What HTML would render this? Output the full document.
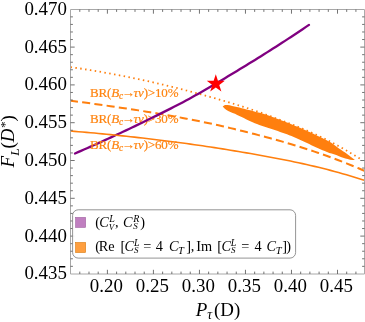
<!DOCTYPE html>
<html><head><meta charset="utf-8">
<style>
html,body{margin:0;padding:0;background:#fff;}
body{width:365px;height:322px;overflow:hidden;position:relative;font-family:"Liberation Serif",serif;}
svg{position:absolute;left:0;top:0;display:block;will-change:transform;}
text{font-family:"Liberation Serif",serif;}
</style></head><body>
<svg width="365" height="322" viewBox="0 0 365 322">
<g fill="none" stroke-linecap="butt" stroke-linejoin="round">
<path d="M70.5,100.64 L74.5,101.18 L78.5,101.72 L82.5,102.26 L86.5,102.81 L90.5,103.36 L94.5,103.91 L98.5,104.47 L102.5,105.04 L106.5,105.61 L110.5,106.18 L114.5,106.76 L118.5,107.35 L122.5,107.94 L126.5,108.54 L130.5,109.15 L134.5,109.76 L138.5,110.38 L142.5,111.01 L146.5,111.65 L150.5,112.30 L154.5,112.96 L158.5,113.63 L162.5,114.31 L166.5,115.00 L170.5,115.71 L174.5,116.42 L178.5,117.15 L182.5,117.90 L186.5,118.66 L190.5,119.43 L194.5,120.22 L198.5,121.03 L202.5,121.85 L206.5,122.69 L210.5,123.55 L214.5,124.43 L218.5,125.33 L222.5,126.24 L226.5,127.17 L230.5,128.12 L234.5,129.08 L238.5,130.05 L242.5,131.04 L246.5,132.04 L250.5,133.05 L254.5,134.08 L258.5,135.12 L262.5,136.17 L266.5,137.24 L270.5,138.32 L274.5,139.41 L278.5,140.53 L282.5,141.66 L286.5,142.82 L290.5,144.00 L294.5,145.20 L298.5,146.43 L302.5,147.69 L306.5,148.97 L310.5,150.28 L314.5,151.62 L318.5,152.99 L322.5,154.38 L326.5,155.81 L330.5,157.27 L334.5,158.75 L338.5,160.26 L342.5,161.81 L346.5,163.38 L350.5,164.99 L354.5,166.62 L358.5,168.28 L362.5,169.98 L364.5,170.84" stroke="#ff7f0e" stroke-width="2" stroke-dasharray="8.1,4.245" stroke-dashoffset="0.6"/>
<path d="M70.5,67.06 L74.5,67.64 L78.5,68.25 L82.5,68.87 L86.5,69.51 L90.5,70.16 L94.5,70.83 L98.5,71.52 L102.5,72.22 L106.5,72.93 L110.5,73.66 L114.5,74.41 L118.5,75.17 L122.5,75.94 L126.5,76.73 L130.5,77.53 L134.5,78.35 L138.5,79.18 L142.5,80.03 L146.5,80.89 L150.5,81.77 L154.5,82.67 L158.5,83.59 L162.5,84.52 L166.5,85.48 L170.5,86.45 L174.5,87.44 L178.5,88.44 L182.5,89.47 L186.5,90.50 L190.5,91.56 L194.5,92.62 L198.5,93.71 L202.5,94.80 L206.5,95.90 L210.5,97.02 L214.5,98.16 L218.5,99.30 L222.5,100.46 L226.5,101.64 L230.5,102.84 L234.5,104.06 L238.5,105.30 L242.5,106.56 L246.5,107.85 L250.5,109.16 L254.5,110.51 L258.5,111.88 L262.5,113.29 L266.5,114.73 L270.5,116.20 L274.5,117.69 L278.5,119.19 L282.5,120.72 L286.5,122.26 L290.5,123.82 L294.5,125.40 L298.5,127.02 L302.5,128.67 L306.5,130.36 L310.5,132.11 L314.5,133.92 L318.5,135.79 L322.5,137.72 L326.5,139.70 L330.5,141.76 L334.5,143.87 L338.5,146.04 L342.5,148.27 L346.5,150.56 L350.5,152.92 L354.5,155.34 L358.5,157.82 L362.5,160.37" stroke="#ff7f0e" stroke-width="1.8" stroke-dasharray="1.5,3.4"/>
</g>
<g font-size="13" fill="#ff8410" stroke="#ff8410" stroke-width="0.2" letter-spacing="-0.17"><text x="90" y="96.8">BR(<tspan font-style="italic">B</tspan><tspan font-style="italic" font-size="9.4" dy="2">c</tspan><tspan dy="-2" dx="-1.2">→</tspan><tspan font-style="italic" dx="-1">τν</tspan>)&gt;10%</text><text x="90" y="122.9">BR(<tspan font-style="italic">B</tspan><tspan font-style="italic" font-size="9.4" dy="2">c</tspan><tspan dy="-2" dx="-1.2">→</tspan><tspan font-style="italic" dx="-1">τν</tspan>)&gt;30%</text></g>
<g fill="none" stroke-linejoin="round">
<path d="M75.0,153.47 L78.0,152.17 L81.0,150.86 L84.0,149.55 L87.0,148.22 L90.0,146.89 L93.0,145.55 L96.0,144.21 L99.0,142.85 L102.0,141.49 L105.0,140.12 L108.0,138.74 L111.0,137.36 L114.0,135.96 L117.0,134.57 L120.0,133.17 L123.0,131.76 L126.0,130.35 L129.0,128.94 L132.0,127.52 L135.0,126.09 L138.0,124.65 L141.0,123.20 L144.0,121.75 L147.0,120.28 L150.0,118.81 L153.0,117.33 L156.0,115.85 L159.0,114.37 L162.0,112.88 L165.0,111.39 L168.0,109.88 L171.0,108.37 L174.0,106.84 L177.0,105.30 L180.0,103.74 L183.0,102.17 L186.0,100.57 L189.0,98.94 L192.0,97.30 L195.0,95.62 L198.0,93.93 L201.0,92.22 L204.0,90.50 L207.0,88.76 L210.0,87.01 L213.0,85.26 L216.0,83.50 L219.0,81.73 L222.0,79.94 L225.0,78.15 L228.0,76.34 L231.0,74.54 L234.0,72.73 L237.0,70.91 L240.0,69.10 L243.0,67.27 L246.0,65.44 L249.0,63.60 L252.0,61.75 L255.0,59.90 L258.0,58.03 L261.0,56.16 L264.0,54.28 L267.0,52.39 L270.0,50.49 L273.0,48.59 L276.0,46.67 L279.0,44.74 L282.0,42.80 L285.0,40.85 L288.0,38.90 L291.0,36.93 L294.0,34.95 L297.0,32.95 L300.0,30.95 L303.0,28.94 L306.0,26.92 L309.0,24.88" stroke="#800080" stroke-width="2.3" stroke-linecap="round"/>
<path d="M70.5,131.03 L74.5,131.35 L78.5,131.68 L82.5,132.01 L86.5,132.36 L90.5,132.71 L94.5,133.07 L98.5,133.45 L102.5,133.83 L106.5,134.22 L110.5,134.61 L114.5,135.02 L118.5,135.43 L122.5,135.85 L126.5,136.28 L130.5,136.71 L134.5,137.16 L138.5,137.60 L142.5,138.06 L146.5,138.52 L150.5,138.99 L154.5,139.47 L158.5,139.96 L162.5,140.45 L166.5,140.95 L170.5,141.46 L174.5,141.97 L178.5,142.50 L182.5,143.03 L186.5,143.57 L190.5,144.12 L194.5,144.68 L198.5,145.25 L202.5,145.83 L206.5,146.42 L210.5,147.03 L214.5,147.64 L218.5,148.26 L222.5,148.89 L226.5,149.54 L230.5,150.19 L234.5,150.85 L238.5,151.52 L242.5,152.20 L246.5,152.89 L250.5,153.58 L254.5,154.28 L258.5,154.99 L262.5,155.71 L266.5,156.44 L270.5,157.18 L274.5,157.93 L278.5,158.70 L282.5,159.47 L286.5,160.27 L290.5,161.08 L294.5,161.91 L298.5,162.76 L302.5,163.63 L306.5,164.52 L310.5,165.44 L314.5,166.38 L318.5,167.34 L322.5,168.32 L326.5,169.34 L330.5,170.37 L334.5,171.44 L338.5,172.53 L342.5,173.65 L346.5,174.80 L350.5,175.97 L354.5,177.18 L358.5,178.41 L362.5,179.68 L364.5,180.33" stroke="#ff7f0e" stroke-width="1.6"/>

</g>
<g font-size="13" fill="#ff8410" stroke="#ff8410" stroke-width="0.2" letter-spacing="-0.17"><text x="90" y="148.6">BR(<tspan font-style="italic">B</tspan><tspan font-style="italic" font-size="9.4" dy="2">c</tspan><tspan dy="-2" dx="-1.2">→</tspan><tspan font-style="italic" dx="-1">τν</tspan>)&gt;60%</text></g>
<path d="M222.7,106.4 L224.9,105.1 L227.2,105.0 L229.6,105.3 L232.1,105.9 L234.5,106.5 L236.9,107.1 L239.3,107.6 L241.7,108.2 L244.1,108.8 L246.5,109.4 L248.9,110.0 L251.3,110.6 L253.6,111.3 L256.0,111.9 L258.4,112.4 L260.8,113.0 L263.2,113.7 L265.5,114.4 L267.8,115.3 L270.1,116.1 L272.5,117.0 L274.8,117.8 L277.1,118.7 L279.4,119.5 L281.7,120.4 L284.0,121.3 L286.3,122.2 L288.6,123.1 L290.8,124.0 L293.1,124.9 L295.4,125.9 L297.7,126.8 L299.9,127.8 L302.2,128.8 L304.4,129.8 L306.7,130.8 L308.9,131.8 L311.2,132.8 L313.4,133.8 L315.6,134.9 L317.9,135.9 L320.1,137.0 L322.3,138.1 L324.5,139.2 L326.7,140.3 L328.9,141.4 L331.0,142.6 L333.0,144.1 L335.0,145.6 L337.0,147.0 L339.0,148.4 L341.0,149.8 L343.0,151.2 L345.1,152.6 L347.1,154.0 L349.1,155.5 L351.0,157.0 L353.0,158.5 L354.9,160.0 L354.9,160.0 L352.5,160.0 L350.1,159.7 L347.7,159.1 L345.4,158.4 L343.1,157.7 L340.8,156.9 L338.5,156.0 L336.2,155.1 L333.9,154.3 L331.6,153.6 L329.3,152.9 L327.0,152.0 L324.7,151.1 L322.5,150.2 L320.3,149.2 L318.1,148.2 L315.8,147.2 L313.6,146.2 L311.4,145.2 L309.2,144.1 L307.0,143.1 L304.8,142.1 L302.6,141.1 L300.4,140.1 L298.2,139.1 L296.0,138.0 L293.7,137.1 L291.5,136.1 L289.2,135.2 L287.0,134.3 L284.7,133.5 L282.4,132.7 L280.1,131.9 L277.8,131.1 L275.5,130.3 L273.2,129.5 L270.9,128.8 L268.5,128.0 L266.2,127.3 L263.9,126.5 L261.6,125.7 L259.3,124.9 L257.0,124.1 L254.8,123.2 L252.6,122.3 L250.3,121.3 L248.1,120.2 L246.0,119.2 L243.8,118.1 L241.6,117.0 L239.4,115.9 L237.2,114.9 L235.0,113.8 L232.7,112.9 L230.4,111.9 L228.2,110.9 L226.1,109.7 L224.3,108.3 L222.7,106.4Z" fill="#ff7f0e"/>
<polygon fill="#ff0000" points="215.80,74.30 217.95,80.85 224.84,80.86 219.27,84.93 221.38,91.49 215.80,87.45 210.22,91.49 212.33,84.93 206.76,80.86 213.65,80.85"/>
<path d="M364.5,9.5H70.5V274H364.5" fill="none" stroke="#a8a8a8" stroke-width="1"/><path d="M364.5,9.5V274" fill="none" stroke="#aaa" stroke-width="1"/>
<path d="M79.79,274.00v-2.4M79.79,9.50v2.4M88.99,274.00v-2.4M88.99,9.50v2.4M98.20,274.00v-2.4M98.20,9.50v2.4M107.40,274.00v-4.2M107.40,9.50v4.2M116.60,274.00v-2.4M116.60,9.50v2.4M125.81,274.00v-2.4M125.81,9.50v2.4M135.01,274.00v-2.4M135.01,9.50v2.4M144.22,274.00v-2.4M144.22,9.50v2.4M153.42,274.00v-4.2M153.42,9.50v4.2M162.62,274.00v-2.4M162.62,9.50v2.4M171.83,274.00v-2.4M171.83,9.50v2.4M181.03,274.00v-2.4M181.03,9.50v2.4M190.24,274.00v-2.4M190.24,9.50v2.4M199.44,274.00v-4.2M199.44,9.50v4.2M208.64,274.00v-2.4M208.64,9.50v2.4M217.85,274.00v-2.4M217.85,9.50v2.4M227.05,274.00v-2.4M227.05,9.50v2.4M236.26,274.00v-2.4M236.26,9.50v2.4M245.46,274.00v-4.2M245.46,9.50v4.2M254.66,274.00v-2.4M254.66,9.50v2.4M263.87,274.00v-2.4M263.87,9.50v2.4M273.07,274.00v-2.4M273.07,9.50v2.4M282.28,274.00v-2.4M282.28,9.50v2.4M291.48,274.00v-4.2M291.48,9.50v4.2M300.68,274.00v-2.4M300.68,9.50v2.4M309.89,274.00v-2.4M309.89,9.50v2.4M319.09,274.00v-2.4M319.09,9.50v2.4M328.30,274.00v-2.4M328.30,9.50v2.4M337.50,274.00v-4.2M337.50,9.50v4.2M346.70,274.00v-2.4M346.70,9.50v2.4M355.91,274.00v-2.4M355.91,9.50v2.4M70.50,16.86h2.4M364.50,16.86h-2.4M70.50,24.42h2.4M364.50,24.42h-2.4M70.50,31.98h2.4M364.50,31.98h-2.4M70.50,39.54h2.4M364.50,39.54h-2.4M70.50,47.10h4.2M364.50,47.10h-4.2M70.50,54.66h2.4M364.50,54.66h-2.4M70.50,62.22h2.4M364.50,62.22h-2.4M70.50,69.78h2.4M364.50,69.78h-2.4M70.50,77.34h2.4M364.50,77.34h-2.4M70.50,84.90h4.2M364.50,84.90h-4.2M70.50,92.46h2.4M364.50,92.46h-2.4M70.50,100.02h2.4M364.50,100.02h-2.4M70.50,107.58h2.4M364.50,107.58h-2.4M70.50,115.14h2.4M364.50,115.14h-2.4M70.50,122.70h4.2M364.50,122.70h-4.2M70.50,130.26h2.4M364.50,130.26h-2.4M70.50,137.82h2.4M364.50,137.82h-2.4M70.50,145.38h2.4M364.50,145.38h-2.4M70.50,152.94h2.4M364.50,152.94h-2.4M70.50,160.50h4.2M364.50,160.50h-4.2M70.50,168.06h2.4M364.50,168.06h-2.4M70.50,175.62h2.4M364.50,175.62h-2.4M70.50,183.18h2.4M364.50,183.18h-2.4M70.50,190.74h2.4M364.50,190.74h-2.4M70.50,198.30h4.2M364.50,198.30h-4.2M70.50,205.86h2.4M364.50,205.86h-2.4M70.50,213.42h2.4M364.50,213.42h-2.4M70.50,220.98h2.4M364.50,220.98h-2.4M70.50,228.54h2.4M364.50,228.54h-2.4M70.50,236.10h4.2M364.50,236.10h-4.2M70.50,243.66h2.4M364.50,243.66h-2.4M70.50,251.22h2.4M364.50,251.22h-2.4M70.50,258.78h2.4M364.50,258.78h-2.4M70.50,266.34h2.4M364.50,266.34h-2.4" stroke="#5a5a5a" stroke-width="0.85" fill="none"/>
<rect x="72.6" y="209.8" width="223" height="48.3" rx="5.6" ry="5.6" fill="#fff" fill-opacity="0.92" stroke="#787878" stroke-width="0.8"/>
<rect x="75.6" y="217.4" width="10" height="10" fill="#c07fc0" stroke="#a060a0" stroke-width="0.6"/>
<rect x="75.6" y="242.5" width="10" height="10" fill="#ff9f3f" stroke="#d9780a" stroke-width="0.6"/>
<g font-size="14.3" fill="#000"><text x="95.2" y="227.3">(</text><text x="99.2" y="227.3" font-style="italic">C</text><text x="108.8" y="229.6" font-style="italic" font-size="9">V</text><text x="109.2" y="221.5" font-style="italic" font-size="10">L</text><text x="115.0" y="227.3">,</text><text x="122.9" y="227.3" font-style="italic">C</text><text x="133.2" y="229.2" font-style="italic" font-size="9">S</text><text x="133.2" y="221.5" font-style="italic" font-size="10">R</text><text x="140.2" y="227.3">)</text><text x="95.2" y="251.4">(</text><text x="98.8" y="251.4">Re</text><text x="120.6" y="251.4">[</text><text x="124.5" y="251.4" font-style="italic">C</text><text x="133.9" y="253.3" font-style="italic" font-size="9">S</text><text x="133.9" y="245.6" font-style="italic" font-size="10">L</text><text x="143.2" y="251.4">=</text><text x="155.8" y="251.4">4</text><text x="168.9" y="251.4" font-style="italic">C</text><text x="178.0" y="253.6" font-style="italic" font-size="10.5">T</text><text x="186.2" y="251.4">]</text><text x="190.8" y="251.4">,</text><text x="196.2" y="251.4">Im</text><text x="217.2" y="251.4">[</text><text x="221.5" y="251.4" font-style="italic">C</text><text x="231.1" y="253.3" font-style="italic" font-size="9">S</text><text x="230.7" y="245.6" font-style="italic" font-size="10">L</text><text x="241.2" y="251.4">=</text><text x="254.4" y="251.4">4</text><text x="266.6" y="251.4" font-style="italic">C</text><text x="275.7" y="253.6" font-style="italic" font-size="10.5">T</text><text x="282.3" y="251.4">]</text><text x="286.2" y="251.4">)</text></g>
<g font-size="18.9" fill="#000" text-anchor="end"><text x="66.9" y="14.70">0.470</text><text x="66.9" y="52.50">0.465</text><text x="66.9" y="90.30">0.460</text><text x="66.9" y="128.10">0.455</text><text x="66.9" y="165.90">0.450</text><text x="66.9" y="203.70">0.445</text><text x="66.9" y="241.50">0.440</text><text x="66.9" y="279.30">0.435</text></g>
<g font-size="18.9" fill="#000" text-anchor="middle"><text x="106.30" y="291.6">0.20</text><text x="152.32" y="291.6">0.25</text><text x="198.34" y="291.6">0.30</text><text x="244.36" y="291.6">0.35</text><text x="290.38" y="291.6">0.40</text><text x="336.40" y="291.6">0.45</text></g>
<text x="195.8" y="316.2" font-size="18.9" fill="#000"><tspan font-style="italic">P</tspan><tspan font-style="italic" font-size="13.6" dy="2.5" dx="0">τ</tspan><tspan dy="-2.5" x="214">(D)</tspan></text>
<text transform="translate(13.9,141.3) rotate(-90)" text-anchor="middle" font-size="18.9" fill="#000"><tspan font-style="italic">F</tspan><tspan font-style="italic" font-size="13.2" dy="5">L</tspan><tspan dy="-5">(</tspan><tspan font-style="italic">D</tspan><tspan font-size="13.2" dy="-4.5" dx="0.5">*</tspan><tspan dy="4.5">)</tspan></text>
</svg>
</body></html>
